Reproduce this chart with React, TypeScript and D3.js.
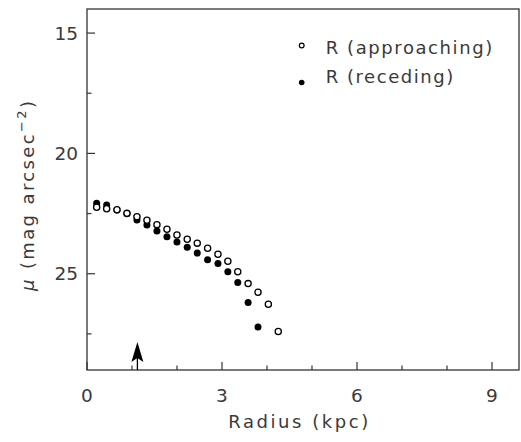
import React from "react";
import * as d3 from "d3";

const radius = [0.215, 0.437, 0.666, 0.888, 1.11, 1.332, 1.554, 1.777, 1.999, 2.227, 2.45, 2.68, 2.91, 3.13, 3.35, 3.58, 3.8, 4.03, 4.25];
const muApproaching = [22.24, 22.3, 22.34, 22.49, 22.63, 22.78, 22.96, 23.15, 23.39, 23.57, 23.73, 23.94, 24.19, 24.48, 24.92, 25.41, 25.77, 26.27, 27.4];
const muReceding = [22.07, 22.14, 22.35, 22.51, 22.77, 22.98, 23.22, 23.46, 23.68, 23.9, 24.14, 24.42, 24.57, 24.92, 25.36, 26.2, 27.21];
const xMajorTicks = [0, 3, 6, 9];
const xMinorTicks = [1, 2, 4, 5, 7, 8];
const yMajorTicks = [15, 20, 25];
const yMinorTicks = [17.5, 22.5, 27.5];
const arrowRadius = 1.12;
const legendLabels = ["R (approaching)", "R (receding)"];

const W = 521, H = 442;
const L = 87, R = 519, T = 9, B = 370;
const FONT = "'DejaVu Sans', sans-serif";
const INK = "#3a3a3a";
const FW = 400;

export default function App() {
  const x = d3.scaleLinear().domain([0, 9.6]).range([L, R]);
  const y = d3.scaleLinear().domain([14, 29]).range([T, B]);
  const ax = x(arrowRadius);
  return (
    <svg width={W} height={H} style={{ position: "absolute", left: 0, top: 0, background: "#fff" }}>
      <rect x={L} y={T} width={R - L} height={B - T} fill="none" stroke="#333" strokeWidth={1.3} />
      {xMajorTicks.map((t) => (
        <g key={"xm" + t}>
          <line x1={x(t)} x2={x(t)} y1={B} y2={B - 8} stroke="#333" strokeWidth={1.2} />
          <text x={x(t)} y={401.5} textAnchor="middle" fontFamily={FONT} fontWeight={FW} fontSize={18.5} fill={INK}>{t}</text>
        </g>
      ))}
      {xMinorTicks.map((t) => (
        <line key={"xn" + t} x1={x(t)} x2={x(t)} y1={B} y2={B - 4.5} stroke="#333" strokeWidth={1.2} />
      ))}
      {yMajorTicks.map((t) => (
        <g key={"ym" + t}>
          <line x1={L} x2={L + 8} y1={y(t)} y2={y(t)} stroke="#333" strokeWidth={1.2} />
          <text x={78} y={y(t)} dy="0.36em" textAnchor="end" fontFamily={FONT} fontWeight={FW} fontSize={18.5} fill={INK}>{t}</text>
        </g>
      ))}
      {yMinorTicks.map((t) => (
        <line key={"yn" + t} x1={L} x2={L + 4.5} y1={y(t)} y2={y(t)} stroke="#333" strokeWidth={1.2} />
      ))}
      {muReceding.map((m, i) => (
        <circle key={"r" + i} cx={x(radius[i])} cy={y(m)} r={3.5} fill="#000" />
      ))}
      {muApproaching.map((m, i) => (
        <circle key={"a" + i} cx={x(radius[i])} cy={y(m)} r={3.1} fill="#fff" stroke="#000" strokeWidth={1.3} />
      ))}
      <path d={`M${ax},${B - 28} L${ax - 6},${B - 8} L${ax},${B - 12} L${ax + 6},${B - 8} Z`} fill="#000" />
      <line x1={ax} x2={ax} y1={B - 12} y2={B} stroke="#000" strokeWidth={1.3} />
      <circle cx={301.7} cy={45.5} r={2.4} fill="#fff" stroke="#000" strokeWidth={1.2} />
      <circle cx={301.7} cy={82.5} r={2.8} fill="#000" />
      <text x={325.7} y={54} fontFamily={FONT} fontWeight={FW} fontSize={18} fill={INK} textLength={166.5} lengthAdjust="spacing" xmlSpace="preserve">{legendLabels[0]}</text>
      <text x={325.7} y={83.3} fontFamily={FONT} fontWeight={FW} fontSize={18} fill={INK} textLength={127.5} lengthAdjust="spacing" xmlSpace="preserve">{legendLabels[1]}</text>
      <text x={228.3} y={428.3} fontFamily={FONT} fontWeight={FW} fontSize={18} fill={INK} textLength={140} lengthAdjust="spacing">Radius (kpc)</text>
      <text transform="translate(34,196) rotate(-90)" textAnchor="middle" fontFamily={FONT} fontWeight={FW} fontSize={18} fill={INK} textLength={190} lengthAdjust="spacing">
        <tspan fontStyle="italic">μ</tspan>
        <tspan> (mag arcsec</tspan>
        <tspan dy={-8} fontSize={13}>−2</tspan>
        <tspan dy={8}>)</tspan>
      </text>
    </svg>
  );
}
